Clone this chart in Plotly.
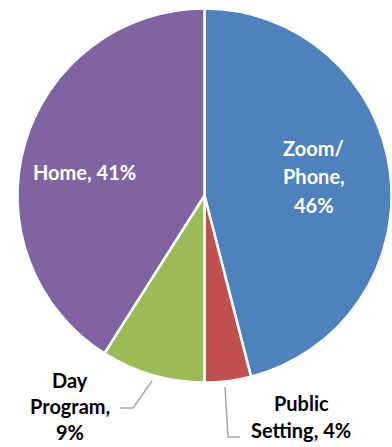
import math
import plotly.graph_objects as go

# Share of sessions by setting
categories = ["Zoom/Phone", "Public Setting", "Day Program", "Home"]
percents = [46, 4, 9, 41]
colors = ["#4F81BD", "#C0504D", "#9BBB59", "#8064A2"]

W, H = 392, 447
FONT = "Lato"
FS = 20

# Pie geometry in pixels
CX, CY, R = 204.5, 195.5, 187

fig = go.Figure(
    go.Pie(
        labels=categories,
        values=percents,
        sort=False,
        direction="clockwise",
        rotation=0,
        marker=dict(colors=colors, line=dict(color="white", width=2.5)),
        textinfo="none",
        hoverinfo="label+percent",
        domain=dict(x=[max(0, (CX - R) / W), min(1, (CX + R) / W)],
                    y=[1 - (CY + R) / H, 1 - (CY - R) / H]),
        showlegend=False,
    )
)


def px(x):
    return x / W


def py(y):
    return 1 - y / H


def mid_point(i, frac):
    """Pixel position at fraction `frac` of the radius along slice i's mid-angle."""
    total = sum(percents)
    start = sum(percents[:i]) / total
    mid = (start + percents[i] / total / 2) * 2 * math.pi
    return CX + frac * R * math.sin(mid), CY - frac * R * math.cos(mid)


def stacked_label(lines, x, y_center, spacing, font):
    """Centred multi-line label, one annotation per line."""
    n = len(lines)
    for k, line in enumerate(lines):
        y = y_center + (k - (n - 1) / 2) * spacing
        fig.add_annotation(x=px(x), y=py(y), xref="paper", yref="paper",
                           text=line, showarrow=False, font=font,
                           xanchor="center", yanchor="middle")


white_font = dict(family=FONT, size=FS, color="white", weight="bold")
black_font = dict(family=FONT, size=FS, color="black", weight="bold")

# Inside labels for the large slices
zx, zy = mid_point(0, 0.59)
stacked_label(["Zoom/", "Phone,", f"{percents[0]}%"], zx, 176.5, 28.5, white_font)
hx, hy = mid_point(3, 0.67)
stacked_label([f"{categories[3]}, {percents[3]}%"], hx, 172, 0, white_font)

# Outside labels for the two small slices
stacked_label(["Day", "Program,", f"{percents[2]}%"], 70, 406, 26, black_font)
stacked_label(["Public", f"Setting, {percents[1]}%"], 301, 416.5, 27, black_font)

# Leader lines
line_style = dict(color="#A6A6A6", width=1.5)
fig.add_shape(type="path", xref="paper", yref="paper",
              path=f"M {px(152)},{py(381)} L {px(133)},{py(408)} L {px(120)},{py(408)}",
              line=line_style)
fig.add_shape(type="path", xref="paper", yref="paper",
              path=f"M {px(225)},{py(387)} L {px(228)},{py(437)} L {px(240)},{py(437)}",
              line=line_style)

fig.update_layout(
    width=W, height=H,
    margin=dict(l=0, r=0, t=0, b=0),
    paper_bgcolor="white",
    plot_bgcolor="white",
)

fig.write_html("out.html")
